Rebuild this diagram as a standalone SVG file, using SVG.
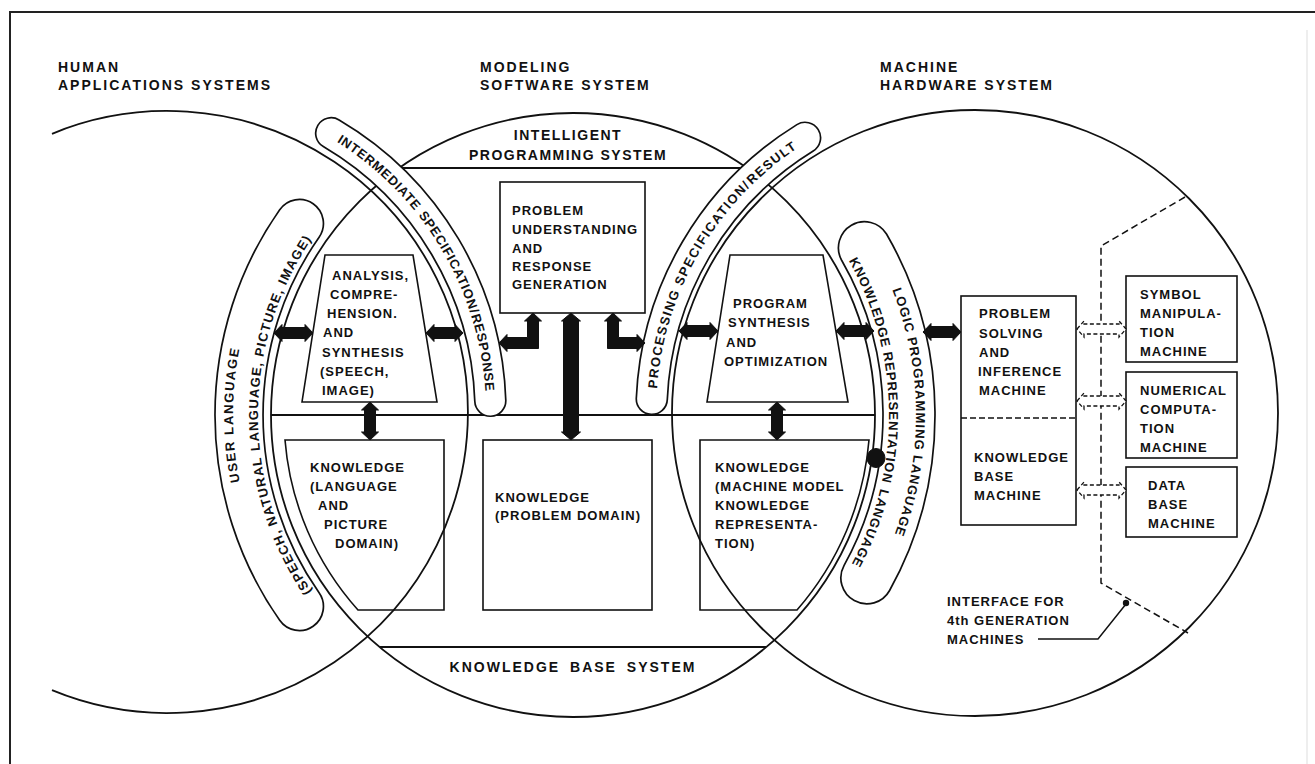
<svg xmlns="http://www.w3.org/2000/svg" width="1315" height="764" viewBox="0 0 1315 764">
<defs>
<style>
.ln{fill:none;stroke:#111;stroke-width:1.8}
.bx{fill:none;stroke:#111;stroke-width:1.6}
.cap{fill:#fff;stroke:#111;stroke-width:1.7}
.ds{fill:none;stroke:#111;stroke-width:1.5;stroke-dasharray:7 4}
.dsa{fill:#fff;stroke:#111;stroke-width:1.3;stroke-dasharray:4 2.5}
.ar{fill:#111;stroke:#111;stroke-width:1;stroke-linejoin:round}
text{font-family:"Liberation Sans",Arial,sans-serif;font-weight:700;font-size:13px;letter-spacing:1px;fill:#111}
.h{font-size:14px;letter-spacing:2px}
.m{text-anchor:middle}
</style>
<path id="tpA1" d="M315,595.7 A315,315 0 0 1 315,234.3"/>
<path id="tpA2" d="M294.5,610 A340,340 0 0 1 294.5,220"/>
<path id="tpB" d="M328.9,137.1 A319,319 0 0 1 485.8,400.9"/>
<path id="tpC" d="M656.3,399.1 A319,319 0 0 1 807.4,141.6"/>
<path id="tpD1" d="M846.7,257 A316,316 0 0 1 849.4,568.2"/>
<path id="tpD2" d="M870,243.5 A343,343 0 0 1 873,581.3"/>
</defs>

<g id="frame">
<path d="M10,764 L10,12 L1315,12" fill="none" stroke="#222" stroke-width="2"/>
<line x1="1307" y1="30" x2="1307" y2="764" stroke="#ddd" stroke-width="1"/>
</g>

<g id="human-applications-systems">
<path class="ln" d="M52,133.8 A301,301 0 1 1 52,690.2"/>
<text class="h" x="58" y="72">HUMAN</text>
<text class="h" x="58" y="90">APPLICATIONS SYSTEMS</text>
</g>

<g id="modeling-software-system">
<circle class="ln" cx="573" cy="415" r="302"/>
<text class="h" x="480" y="72">MODELING</text>
<text class="h" x="480" y="90">SOFTWARE SYSTEM</text>
<line class="ln" x1="271" y1="415" x2="875" y2="415"/>
</g>

<g id="machine-hardware-system">
<circle class="ln" cx="975" cy="413" r="303"/>
<text class="h" x="880" y="72">MACHINE</text>
<text class="h" x="880" y="90">HARDWARE SYSTEM</text>
</g>

<g id="intelligent-programming-system">
<line class="ln" x1="399" y1="168" x2="747" y2="168"/>
<text class="h m" x="568" y="140" style="letter-spacing:1.5px">INTELLIGENT</text>
<text class="h m" x="568" y="160" style="letter-spacing:1.5px">PROGRAMMING SYSTEM</text>
</g>

<g id="knowledge-base-system">
<line class="ln" x1="380" y1="647" x2="766" y2="647"/>
<text class="h m" x="573" y="672" style="word-spacing:4px">KNOWLEDGE BASE SYSTEM</text>
</g>

<g id="user-language">
<path class="cap" d="M279.7,620.3 A358,358 0 0 1 279.7,209.7 A24,24 0 0 1 319.1,237.2 A310,310 0 0 0 319.1,592.8 A24,24 0 0 1 279.7,620.3 Z"/>
<text style="letter-spacing:1.2px"><textPath href="#tpA1" startOffset="5.1">(SPEECH,</textPath></text>
<text style="letter-spacing:1.2px"><textPath href="#tpA1" startOffset="80.9">NATURAL</textPath></text>
<text style="letter-spacing:1.2px"><textPath href="#tpA1" startOffset="156.9">LANGUAGE,</textPath></text>
<text style="letter-spacing:1.2px"><textPath href="#tpA1" startOffset="250.5">PICTURE,</textPath></text>
<text style="letter-spacing:1.2px"><textPath href="#tpA1" startOffset="325.6">IMAGE)</textPath></text>
<text style="letter-spacing:1.6px"><textPath href="#tpA2" startOffset="140.3">USER</textPath></text>
<text style="letter-spacing:1.6px"><textPath href="#tpA2" startOffset="188">LANGUAGE</textPath></text>
</g>

<g id="intermediate-specification">
<path class="cap" d="M339.1,119.9 A339,339 0 0 1 505.8,400.2 A15.5,15.5 0 0 1 474.8,401.3 A308,308 0 0 0 323.3,146.6 A15.5,15.5 0 0 1 339.1,119.9 Z"/>
<text style="letter-spacing:0.7px"><textPath href="#tpB" startOffset="9.1">INTERMEDIATE</textPath></text>
<text style="letter-spacing:0.7px"><textPath href="#tpB" startOffset="119.3">SPECIFICATION/</textPath></text>
<text style="letter-spacing:0.7px"><textPath href="#tpB" startOffset="233.1">RESPONSE</textPath></text>
</g>

<g id="processing-specification">
<path class="cap" d="M636.3,398.2 A339,339 0 0 1 796.9,124.6 A15.5,15.5 0 0 1 813.2,151 A308,308 0 0 0 667.3,399.6 A15.5,15.5 0 0 1 636.3,398.2 Z"/>
<text style="letter-spacing:1.4px"><textPath href="#tpC" startOffset="10.5">PROCESSING</textPath></text>
<text style="letter-spacing:1.4px"><textPath href="#tpC" startOffset="116.2">SPECIFICATION/</textPath></text>
<text style="letter-spacing:1.4px"><textPath href="#tpC" startOffset="239.8">RESULT</textPath></text>
</g>

<g id="logic-programming-language">
<path class="cap" d="M886.5,234 A362,362 0 0 1 889.6,590.5 A26,26 0 0 1 844.1,565.3 A310,310 0 0 0 841.5,260 A26,26 0 0 1 886.5,234 Z"/>
<text style="letter-spacing:0.9px"><textPath href="#tpD1" startOffset="4.3">KNOWLEDGE</textPath></text>
<text style="letter-spacing:0.9px"><textPath href="#tpD1" startOffset="102.8">REPRESENTATION</textPath></text>
<text style="letter-spacing:0.9px"><textPath href="#tpD1" startOffset="239.6">LANGUAGE</textPath></text>
<text style="letter-spacing:1px"><textPath href="#tpD2" startOffset="51.3">LOGIC</textPath></text>
<text style="letter-spacing:1px"><textPath href="#tpD2" startOffset="102.1">PROGRAMMING</textPath></text>
<text style="letter-spacing:1px"><textPath href="#tpD2" startOffset="219.5">LANGUAGE</textPath></text>
</g>

<g id="analysis-comprehension-synthesis">
<path class="bx" d="M325,255 L413,255 L437,402 L302,402 Z"/>
<text x="332" y="280">ANALYSIS,</text>
<text x="330" y="299">COMPRE-</text>
<text x="327" y="318">HENSION.</text>
<text x="323" y="337">AND</text>
<text x="322" y="357">SYNTHESIS</text>
<text x="320" y="376">(SPEECH,</text>
<text x="322" y="395">IMAGE)</text>
</g>

<g id="problem-understanding">
<rect class="bx" x="500" y="182" width="145" height="131"/>
<text x="512" y="215">PROBLEM</text>
<text x="512" y="234">UNDERSTANDING</text>
<text x="512" y="253">AND</text>
<text x="512" y="271">RESPONSE</text>
<text x="512" y="289">GENERATION</text>
</g>

<g id="program-synthesis">
<path class="bx" d="M730,255 L823,255 L848,402 L707,402 Z"/>
<text x="733" y="308">PROGRAM</text>
<text x="728" y="327">SYNTHESIS</text>
<text x="726" y="347">AND</text>
<text x="724" y="366">OPTIMIZATION</text>
</g>

<g id="knowledge-language-picture">
<path class="bx" d="M285,440 L444,440 L444,610 L358,610 A290,290 0 0 1 285,440 Z"/>
<text x="310" y="472">KNOWLEDGE</text>
<text x="310" y="491">(LANGUAGE</text>
<text x="318" y="510">AND</text>
<text x="324" y="529">PICTURE</text>
<text x="335" y="548">DOMAIN)</text>
</g>

<g id="knowledge-problem-domain">
<rect class="bx" x="483" y="440" width="169" height="170"/>
<text x="495" y="502">KNOWLEDGE</text>
<text x="495" y="520">(PROBLEM DOMAIN)</text>
</g>

<g id="knowledge-machine-model">
<path class="bx" d="M700,440 L869,440 A297,297 0 0 1 797,610 L700,610 Z"/>
<text x="715" y="472">KNOWLEDGE</text>
<text x="715" y="491">(MACHINE MODEL</text>
<text x="715" y="510">KNOWLEDGE</text>
<text x="715" y="529">REPRESENTA-</text>
<text x="715" y="548">TION)</text>
</g>

<g id="problem-solving-machine">
<rect class="bx" x="961" y="296" width="115" height="229"/>
<line x1="961" y1="418" x2="1076" y2="418" stroke="#111" stroke-width="1.5" stroke-dasharray="6 3"/>
<text x="979" y="318">PROBLEM</text>
<text x="979" y="338">SOLVING</text>
<text x="979" y="357">AND</text>
<text x="978" y="376">INFERENCE</text>
<text x="979" y="395">MACHINE</text>
<text x="974" y="462">KNOWLEDGE</text>
<text x="974" y="481">BASE</text>
<text x="974" y="500">MACHINE</text>
</g>

<g id="symbol-manipulation-machine">
<rect class="bx" x="1126" y="276" width="111" height="86"/>
<text x="1140" y="299">SYMBOL</text>
<text x="1140" y="318">MANIPULA-</text>
<text x="1140" y="337">TION</text>
<text x="1140" y="356">MACHINE</text>
</g>

<g id="numerical-computation-machine">
<rect class="bx" x="1126" y="372" width="111" height="86"/>
<text x="1140" y="395">NUMERICAL</text>
<text x="1140" y="414">COMPUTA-</text>
<text x="1140" y="433">TION</text>
<text x="1140" y="452">MACHINE</text>
</g>

<g id="data-base-machine">
<rect class="bx" x="1126" y="467" width="111" height="70"/>
<text x="1148" y="490">DATA</text>
<text x="1148" y="509">BASE</text>
<text x="1148" y="528">MACHINE</text>
</g>

<g id="interface-4th-generation">
<path class="ds" d="M1185,197 L1101,246 L1101,583 L1188,633"/>
<text x="947" y="606">INTERFACE FOR</text>
<text x="947" y="625">4th GENERATION</text>
<text x="947" y="644">MACHINES</text>
<path d="M1038,639 L1098,639 L1126,604" fill="none" stroke="#111" stroke-width="1.5"/>
<circle cx="1126" cy="603" r="3.2" fill="#111"/>
</g>

<g id="connectors">
<path class="ar" d="M274,333 L282,324.5 L282,327.5 L305,327.5 L305,324.5 L313,333 L305,341.5 L305,338.5 L282,338.5 L282,341.5 Z"/>
<path class="ar" d="M426,333 L434,324.5 L434,327.5 L455,327.5 L455,324.5 L463,333 L455,341.5 L455,338.5 L434,338.5 L434,341.5 Z"/>
<path class="ar" d="M533,313 L541.5,321 L538.5,321 L538.5,348.5 L507,348.5 L507,351.5 L499,343 L507,334.5 L507,337.5 L527.5,337.5 L527.5,321 L524.5,321 Z"/>
<path class="ar" d="M613,313 L621.5,321 L618.5,321 L618.5,337.5 L637,337.5 L637,334.5 L645,343 L637,351.5 L637,348.5 L607.5,348.5 L607.5,321 L604.5,321 Z"/>
<path class="ar" d="M571,313 L580.5,321 L578.5,321 L578.5,432 L580.5,432 L571,440 L561.5,432 L563.5,432 L563.5,321 L561.5,321 Z"/>
<path class="ar" d="M370,402 L378.5,410 L375.5,410 L375.5,432 L378.5,432 L370,440 L361.5,432 L364.5,432 L364.5,410 L361.5,410 Z"/>
<path class="ar" d="M777,402 L785.5,410 L782.5,410 L782.5,432 L785.5,432 L777,440 L768.5,432 L771.5,432 L771.5,410 L768.5,410 Z"/>
<path class="ar" d="M679,331 L687,322.5 L687,325.5 L710,325.5 L710,322.5 L718,331 L710,339.5 L710,336.5 L687,336.5 L687,339.5 Z"/>
<path class="ar" d="M836,331 L844,322.5 L844,325.5 L866,325.5 L866,322.5 L874,331 L866,339.5 L866,336.5 L844,336.5 L844,339.5 Z"/>
<path class="ar" d="M923,332 L931,323.5 L931,326.5 L953,326.5 L953,323.5 L961,332 L953,340.5 L953,337.5 L931,337.5 L931,340.5 Z"/>
<ellipse class="ar" cx="876" cy="458" rx="9" ry="9.5"/>
<path class="dsa" d="M1077,329 L1084,321 L1084,324 L1119,324 L1119,321 L1126,329 L1119,337 L1119,334 L1084,334 L1084,337 Z"/>
<path class="dsa" d="M1077,401 L1084,393 L1084,396 L1119,396 L1119,393 L1126,401 L1119,409 L1119,406 L1084,406 L1084,409 Z"/>
<path class="dsa" d="M1077,490 L1084,482 L1084,485 L1119,485 L1119,482 L1126,490 L1119,498 L1119,495 L1084,495 L1084,498 Z"/>
</g>
</svg>
